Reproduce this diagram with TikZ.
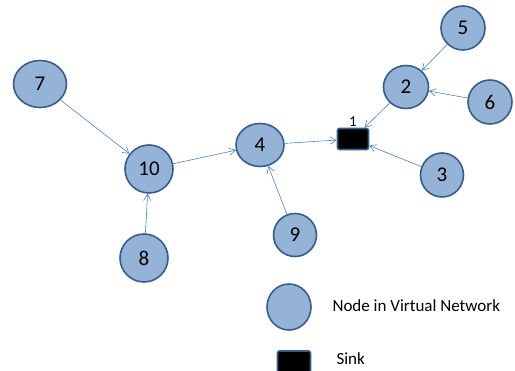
\documentclass[tikz,border=0pt]{standalone}
\usepackage{fontspec}
\setmainfont{Carlito}
\usepackage{xcolor}
\usetikzlibrary{arrows.meta, shapes.geometric}
\definecolor{vnfill}{RGB}{149,179,215}
\definecolor{vnborder}{RGB}{56,93,138}
\definecolor{linkblue}{RGB}{79,129,189}

\begin{document}
\begin{tikzpicture}[
  x=1pt, y=-1pt,
  >={Straight Barb[length=2.2mm, width=2.6mm]},
  every node/.style={font=\fontsize{21}{24}\selectfont},
  vn/.style={ellipse, draw=vnborder, line width=1.6pt, fill=vnfill, inner sep=0pt},
  sinkbox/.style={rectangle, rounded corners=2pt, draw=vnborder, line width=1.6pt, fill=black,
    minimum width=31pt, minimum height=21pt, inner sep=0pt},
  link/.style={->, linkblue, line width=0.6pt},
  legend/.style={anchor=west, font=\fontsize{17}{20}\selectfont}
]
\useasboundingbox (0,0) rectangle (515,371);
% virtual network nodes
\node[vn, minimum width=53pt, minimum height=47pt] (n7) at (40,84) {7};
\node[vn, minimum width=48pt, minimum height=48pt] (n10) at (149,169) {10};
\node[vn, minimum width=48pt, minimum height=43pt] (n4) at (260,145) {4};
\node[vn, minimum width=43pt, minimum height=43pt] (n9) at (295,235) {9};
\node[vn, minimum width=48pt, minimum height=48pt] (n8) at (144,258) {8};
\node[vn, minimum width=44pt, minimum height=44pt] (n5) at (463,28) {5};
\node[vn, minimum width=45pt, minimum height=43pt] (n2) at (406,87) {2};
\node[vn, minimum width=44pt, minimum height=44pt] (n6) at (490,102) {6};
\node[vn, minimum width=43pt, minimum height=44pt] (n3) at (442,175) {3};
% sink
\node[sinkbox] (sink) at (353,139) {};
\node[font=\fontsize{15}{16}\selectfont, anchor=south, inner sep=1pt] (sinklbl) at (sink.north) {1};
% links towards the sink
\draw[link] (n7) -- (n10);
\draw[link] (n8) -- (n10);
\draw[link] (n10) -- (n4);
\draw[link] (n9) -- (n4);
\draw[link] (n4) -- (sink);
\draw[link] (n2) -- (sink);
\draw[link] (n3) -- (sink);
\draw[link] (n5) -- (n2);
\draw[link] (n6) -- (n2);
% legend
\node[vn, minimum width=44pt, minimum height=46pt] (keyvn) at (289,307) {};
\node[legend] (keyvntxt) at (329,306) {Node in Virtual Network};
\node[sinkbox, minimum width=33pt, minimum height=22pt] (keysink) at (294,362) {};
\node[legend] (keysinktxt) at (333,359) {Sink};
\end{tikzpicture}
\end{document}
